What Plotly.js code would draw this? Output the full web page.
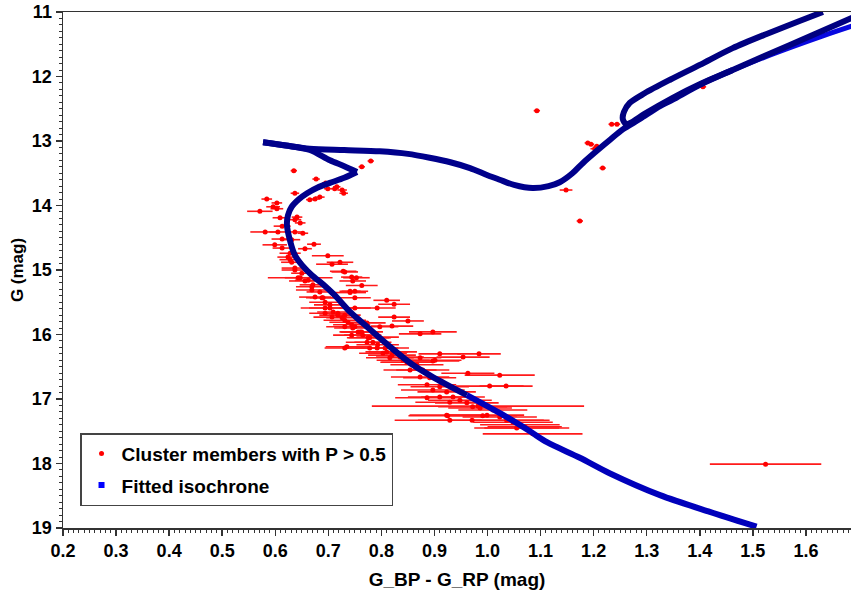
<!DOCTYPE html>
<html>
<head>
<meta charset="utf-8">
<script src="https://cdn.plot.ly/plotly-3.0.1.min.js"></script>
<style>html,body{margin:0;padding:0;background:#fff;}#plot{width:851px;height:590px;}</style>
</head>
<body>
<div id="plot"></div>
<script>
// Cluster members: colour (G_BP - G_RP), magnitude G, colour error
const memColor = [1.093,1.234,1.244,1.406,1.189,1.195,1.206,1.202,1.217,1.148,1.174,0.780,0.763,0.635,0.677,0.695,0.637,0.584,0.603,0.716,0.726,0.729,0.712,0.684,0.675,0.665,0.699,0.596,0.571,0.603,0.641,0.637,0.609,0.647,0.613,0.581,0.605,0.637,0.652,0.613,0.631,0.673,0.599,0.613,0.656,0.628,0.699,0.722,0.707,0.628,0.637,0.728,0.647,0.744,0.746,0.656,0.750,0.741,0.750,0.669,0.688,0.810,0.824,0.703,0.750,0.792,0.694,0.718,0.824,0.731,0.797,0.820,0.744,0.763,0.793,0.850,0.773,0.873,0.897,0.731,0.910,0.954,0.984,0.901,0.963,1.023,1.004,1.035,0.925,0.929,0.991,1.070,0.982,1.085,0.971,1.524,
0.624,0.631,0.637,0.650,0.643,0.662,0.671,0.669,0.684,0.675,0.690,0.694,0.703,0.694,0.709,0.718,0.707,0.731,0.726,0.737,0.731,0.750,0.756,0.744,0.765,0.775,0.784,0.746,0.760,0.778,0.773,0.793,0.792,0.807,0.810,0.822,0.820,0.835,0.841,0.850,0.873,0.848,0.867,0.854,0.878,0.873,0.891,0.886,0.910,0.897,0.923,0.910,0.935,0.948,0.929,0.961,0.972,0.986,1.010,0.999,1.023,1.036,1.048,1.061,1.074,1.055,0.735,0.778,0.803,0.816,0.897,0.886,0.923,0.731,0.753,0.763,0.741];
const memMag = [12.53,12.74,12.74,12.16,13.03,13.05,13.08,13.12,13.42,13.76,14.24,13.31,13.40,13.46,13.59,13.65,13.81,13.90,13.96,13.71,13.76,13.81,13.74,13.87,13.90,13.91,13.74,14.02,14.09,14.05,14.18,14.22,14.19,14.27,14.32,14.41,14.41,14.41,14.43,14.52,14.53,14.60,14.61,14.66,14.67,14.74,14.78,14.88,14.91,14.84,14.97,15.02,15.12,15.11,15.17,15.17,15.33,15.33,15.43,15.26,15.43,15.47,15.53,15.59,15.59,15.59,15.67,15.70,15.73,15.78,15.88,15.87,15.85,15.96,16.04,15.79,15.82,15.99,15.96,16.21,16.30,16.35,16.30,16.40,16.60,16.63,16.80,16.80,17.26,17.33,17.26,17.43,17.11,17.54,17.33,18.01,
14.80,14.88,15.00,15.05,15.12,15.16,15.23,15.31,15.34,15.42,15.43,15.50,15.54,15.59,15.65,15.67,15.73,15.70,15.74,15.81,15.88,15.88,15.96,16.01,16.01,16.05,16.12,15.90,15.96,16.05,16.12,16.16,16.21,16.21,16.27,16.27,16.32,16.35,16.40,16.43,16.36,16.43,16.47,16.55,16.55,16.66,16.67,16.78,16.81,16.86,16.89,16.97,16.97,17.02,17.05,17.06,17.12,17.14,17.17,17.25,17.28,17.33,17.36,17.40,17.45,17.45,16.19,16.21,16.29,16.36,16.41,16.98,17.25,15.03,15.12,15.24,15.35];
const memErr = [0.006,0.006,0.006,0.006,0.006,0.006,0.006,0.008,0.006,0.012,0.006,0.006,0.006,0.006,0.007,0.007,0.008,0.01,0.01,0.007,0.009,0.008,0.007,0.009,0.009,0.007,0.007,0.013,0.024,0.012,0.01,0.012,0.014,0.01,0.016,0.028,0.016,0.013,0.01,0.02,0.016,0.013,0.023,0.018,0.013,0.02,0.03,0.025,0.03,0.02,0.025,0.025,0.061,0.02,0.025,0.03,0.025,0.02,0.03,0.03,0.03,0.025,0.03,0.055,0.03,0.035,0.03,0.035,0.03,0.04,0.035,0.04,0.035,0.04,0.04,0.03,0.035,0.04,0.045,0.038,0.04,0.05,0.041,0.05,0.05,0.066,0.064,0.05,0.074,0.06,0.065,0.07,0.2,0.094,0.146,0.105,
0.02,0.02,0.025,0.02,0.025,0.025,0.025,0.03,0.025,0.03,0.025,0.03,0.03,0.03,0.03,0.03,0.035,0.03,0.03,0.035,0.035,0.03,0.035,0.035,0.035,0.04,0.035,0.035,0.035,0.04,0.04,0.04,0.04,0.045,0.04,0.045,0.045,0.045,0.05,0.05,0.04,0.05,0.05,0.05,0.05,0.055,0.05,0.055,0.055,0.06,0.055,0.06,0.06,0.06,0.065,0.06,0.065,0.06,0.065,0.07,0.07,0.07,0.075,0.075,0.08,0.08,0.04,0.04,0.045,0.045,0.05,0.06,0.07,0.025,0.025,0.03,0.03];

// Fitted isochrone (split at its sharp corners)
const lowMsX = [1.507,1.419,1.325,1.230,1.174,1.112,1.080,1.030,0.961];
const lowMsY = [18.98,18.75,18.49,18.15,17.91,17.67,17.50,17.25,16.94];
const upMsX = [0.961,0.897,0.859,0.812,0.763,0.741,0.712,0.690,0.669,0.650,0.637,0.628,0.622,0.624,0.631,0.645,0.660,0.680,0.703,0.730,0.754];
const upMsY = [16.94,16.66,16.47,16.16,15.81,15.65,15.39,15.22,15.08,14.92,14.77,14.55,14.30,14.15,14.02,13.90,13.81,13.72,13.65,13.57,13.48];
const hookX = [0.754,0.730,0.703,0.665,0.620,0.577];
const hookY = [13.48,13.39,13.30,13.14,13.07,13.02];
const sgbX = [0.577,0.620,0.665,0.730,0.797,0.850,0.891,0.930,0.967,1.000,1.023,1.050,1.085,1.115,1.136,1.160,1.180,1.205,1.231,1.255,1.287,1.325,1.349,1.400,1.462];
const sgbY = [13.02,13.07,13.12,13.14,13.16,13.20,13.26,13.33,13.42,13.53,13.60,13.68,13.73,13.70,13.64,13.50,13.34,13.16,12.98,12.82,12.66,12.46,12.36,12.13,11.90];
const rgbX = [1.462,1.538,1.632,1.690];
const rgbY = [11.90,11.65,11.37,11.21];
const loopX = [1.632,1.588,1.526,1.462,1.400,1.344,1.296,1.268,1.257,1.255,1.261,1.272,1.296,1.349,1.400,1.462,1.570,1.690];
const loopY = [11.00,11.14,11.34,11.56,11.82,12.05,12.26,12.41,12.55,12.66,12.74,12.71,12.58,12.33,12.12,11.90,11.51,11.08];

const xTicks = [0.2,0.3,0.4,0.5,0.6,0.7,0.8,0.9,1.0,1.1,1.2,1.3,1.4,1.5,1.6];
const yTicks = [11,12,13,14,15,16,17,18,19];

const FONT = '"Liberation Sans", Arial, Helvetica, sans-serif';

function curve(x, y, color, width) {
  return {x: x, y: y, type: 'scatter', mode: 'lines', showlegend: false, hoverinfo: 'skip',
          line: {color: color, width: width, shape: 'spline', smoothing: 0.8}};
}

const traces = [
  {x: memColor, y: memMag, type: 'scatter', mode: 'markers', name: 'Cluster members with P > 0.5',
   legendgroup: 'a',
   marker: {color: '#ff0000', size: 5, symbol: 'circle'},
   error_x: {type: 'data', array: memErr, visible: true, color: '#ff1a1a', thickness: 1.6, width: 0}},
  curve(lowMsX, lowMsY, '#0000bb', 6),
  curve(upMsX, upMsY, '#00008b', 6),
  curve(hookX, hookY, '#00008b', 6),
  curve(sgbX, sgbY, '#00008b', 6),
  curve(rgbX, rgbY, '#0808e0', 5),
  curve(loopX, loopY, '#000080', 6),
  {x: [null], y: [null], type: 'scatter', mode: 'markers', name: 'Fitted isochrone',
   legendgroup: 'b',
   marker: {color: '#0000ff', size: 6, symbol: 'square'}}
];

const axisCommon = {
  showgrid: false, zeroline: false, showline: true, linecolor: '#333', linewidth: 1.5,
  ticks: 'outside', ticklen: 6, tickwidth: 1.5, tickcolor: '#333',
  tickfont: {family: FONT, size: 18, color: '#000', weight: 'bold'}
};

const layout = {
  width: 851, height: 590,
  margin: {l: 63, r: 0, t: 12, b: 62},
  paper_bgcolor: '#fff', plot_bgcolor: '#fff',
  showlegend: true,
  xaxis: Object.assign({}, axisCommon, {
    range: [0.2, 1.685], tickvals: xTicks, ticktext: xTicks.map(v => v.toFixed(1)),
    mirror: true,
    minor: {dtick: 0.01, tick0: 0.2, ticks: 'outside', ticklen: 3, tickwidth: 1, tickcolor: '#333', showgrid: false},
    title: {text: 'G_BP - G_RP (mag)', font: {family: FONT, size: 19, color: '#000', weight: 'bold'}, standoff: 12}
  }),
  yaxis: Object.assign({}, axisCommon, {
    range: [19, 11], tickvals: yTicks, ticktext: yTicks.map(String),
    minor: {dtick: 0.1, tick0: 11, ticks: 'outside', ticklen: 3, tickwidth: 1, tickcolor: '#333', showgrid: false},
    title: {text: 'G (mag)', font: {family: FONT, size: 17, color: '#000', weight: 'bold'}, standoff: 4}
  }),
  legend: {
    x: 0.0216, y: 0.184, xanchor: 'left', yanchor: 'top',
    bgcolor: '#fff', bordercolor: '#444', borderwidth: 1.5,
    font: {family: FONT, size: 19, color: '#000', weight: 'bold'},
    traceorder: 'grouped', tracegroupgap: 4
  }
};

Plotly.newPlot('plot', traces, layout, {displayModeBar: false, staticPlot: true});
</script>
</body>
</html>
